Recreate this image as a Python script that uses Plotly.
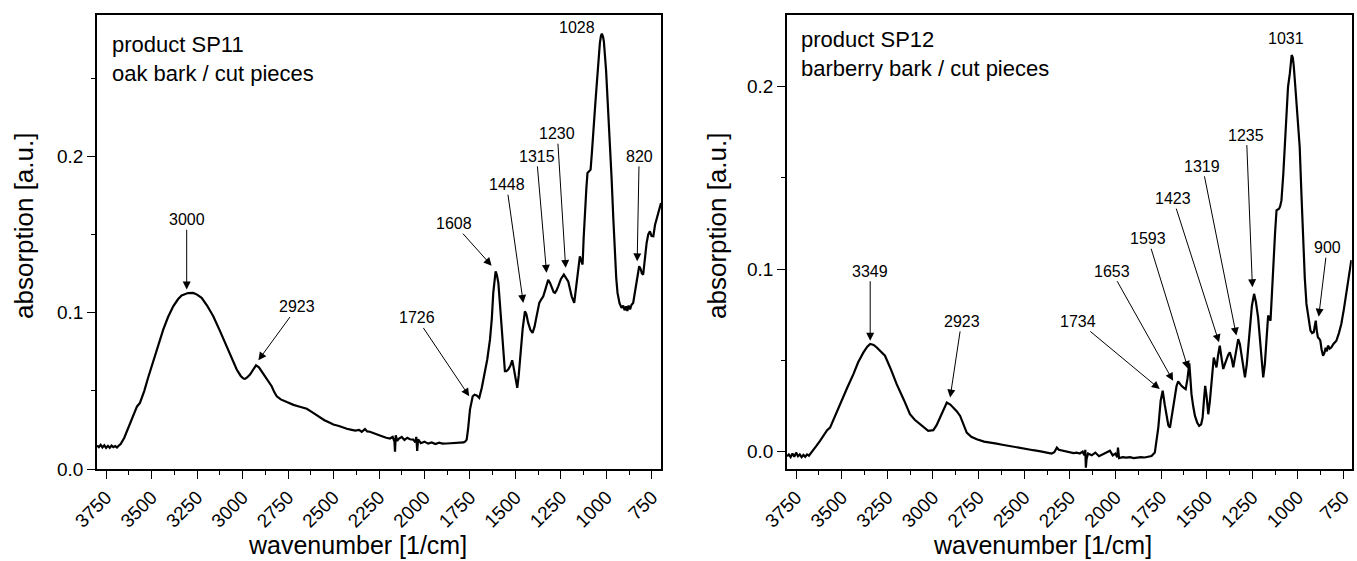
import plotly.graph_objects as go

# ---------------- data ----------------
wn_sp11 = [3800, 3790, 3780, 3770, 3760, 3750, 3740, 3730, 3720, 3710, 3700, 3690, 3680, 3670,
           3650, 3630, 3619, 3600, 3580, 3564, 3540, 3520, 3499, 3470, 3436, 3410, 3381, 3355,
           3335, 3300, 3271, 3250, 3225, 3195, 3161, 3125, 3087, 3060, 3032, 3010, 2995, 2987,
           2975, 2959, 2940, 2926, 2910, 2886, 2860, 2840, 2825, 2812, 2790, 2757, 2720, 2690,
           2660, 2647, 2620, 2600, 2574, 2550, 2520, 2501, 2470, 2450, 2427, 2400, 2380, 2360,
           2345, 2327, 2315, 2300, 2280, 2260, 2245, 2230, 2210, 2190, 2175, 2165, 2162, 2158,
           2150, 2140, 2125, 2110, 2095, 2080, 2062, 2050, 2045, 2040, 2035, 2020, 2000, 1980,
           1960, 1940, 1920, 1900, 1878, 1850, 1820, 1800, 1785, 1777, 1768, 1760, 1750, 1735,
           1725, 1713, 1699, 1685, 1668, 1655, 1640, 1630, 1622, 1614, 1609, 1602, 1594, 1585,
           1576, 1567, 1558, 1550, 1540, 1528, 1518, 1510, 1503, 1495, 1490, 1482, 1472, 1460,
           1448, 1440, 1430, 1418, 1406, 1395, 1384, 1369, 1358, 1347, 1335, 1320, 1310, 1298,
           1290, 1283, 1275, 1265, 1250, 1234, 1222, 1210, 1200, 1191, 1177, 1168, 1158, 1146,
           1138, 1131, 1125, 1118, 1110, 1104, 1095, 1087, 1080, 1072, 1062, 1054, 1045, 1036,
           1030, 1025, 1019, 1014, 1002, 990, 980, 972, 962, 954, 946, 939, 928, 917, 908, 900,
           892, 885, 878, 870, 862, 853, 843, 834, 826, 820, 812, 805, 798, 790, 779, 770, 761,
           752, 742, 733, 724, 712, 700]
abs_sp11 = [0.0150, 0.0140, 0.0155, 0.0138, 0.0152, 0.0135, 0.0148, 0.0136, 0.0150, 0.0140, 0.0147,
            0.0138, 0.0150, 0.0160, 0.0200, 0.0260, 0.0295, 0.0350, 0.0400, 0.0423, 0.0500, 0.0580,
            0.0657, 0.0770, 0.0891, 0.0970, 0.1040, 0.1085, 0.1110, 0.1125, 0.1126, 0.1115, 0.1094,
            0.1045, 0.0977, 0.0885, 0.0785, 0.0712, 0.0636, 0.0595, 0.0578, 0.0576, 0.0585, 0.0604,
            0.0640, 0.0663, 0.0650, 0.0610, 0.0570, 0.0529, 0.0490, 0.0465, 0.0445, 0.0427, 0.0410,
            0.0400, 0.0392, 0.0385, 0.0365, 0.0350, 0.0327, 0.0312, 0.0295, 0.0284, 0.0275, 0.0265,
            0.0257, 0.0250, 0.0245, 0.0250, 0.0238, 0.0255, 0.0240, 0.0238, 0.0228, 0.0222, 0.0214,
            0.0208, 0.0200, 0.0195, 0.0205, 0.0175, 0.0110, 0.0215, 0.0180, 0.0195, 0.0205, 0.0185,
            0.0200, 0.0190, 0.0188, 0.0170, 0.0205, 0.0115, 0.0190, 0.0165, 0.0175, 0.0162, 0.0170,
            0.0160, 0.0168, 0.0162, 0.0163, 0.0165, 0.0163, 0.0166, 0.0170, 0.0175, 0.0188, 0.0260,
            0.0380, 0.0465, 0.0475, 0.0470, 0.0455, 0.0520, 0.0615, 0.0700, 0.0827, 0.0960, 0.1126,
            0.1230, 0.1264, 0.1240, 0.1190, 0.1050, 0.0912, 0.0750, 0.0625, 0.0625, 0.0636, 0.0660,
            0.0695, 0.0650, 0.0593, 0.0540, 0.0519, 0.0600, 0.0764, 0.0900, 0.1008, 0.0990, 0.0934,
            0.0890, 0.0870, 0.0910, 0.0976, 0.1062, 0.1085, 0.1104, 0.1150, 0.1210, 0.1190, 0.1158,
            0.1130, 0.1126, 0.1140, 0.1168, 0.1215, 0.1243, 0.1225, 0.1200, 0.1150, 0.1104, 0.1062,
            0.1140, 0.1232, 0.1360, 0.1330, 0.1307, 0.1480, 0.1658, 0.1800, 0.1893, 0.1905, 0.1914,
            0.2020, 0.2190, 0.2320, 0.2446, 0.2600, 0.2723, 0.2770, 0.2783, 0.2765, 0.2734, 0.2550,
            0.2297, 0.2080, 0.1871, 0.1600, 0.1381, 0.1220, 0.1126, 0.1060, 0.1030, 0.1045, 0.1015,
            0.1040, 0.1010, 0.1045, 0.1020, 0.1050, 0.1062, 0.1130, 0.1190, 0.1260, 0.1296, 0.1280,
            0.1250, 0.1243, 0.1330, 0.1445, 0.1500, 0.1520, 0.1490, 0.1488, 0.1560, 0.1594, 0.1640,
            0.1701]

wn_sp12 = [3800, 3790, 3780, 3770, 3760, 3750, 3740, 3730, 3720, 3710, 3700, 3690, 3680, 3670,
           3656, 3640, 3619, 3600, 3580, 3564, 3540, 3520, 3500, 3470, 3436, 3410, 3381, 3360,
           3344, 3325, 3308, 3285, 3263, 3230, 3199, 3160, 3126, 3100, 3071, 3045, 3026, 2998,
           2980, 2961, 2940, 2924, 2905, 2888, 2870, 2851, 2832, 2815, 2790, 2760, 2720, 2680,
           2651, 2620, 2580, 2550, 2523, 2490, 2450, 2410, 2377, 2350, 2335, 2321, 2310, 2290,
           2270, 2250, 2230, 2212, 2195, 2180, 2170, 2165, 2162, 2158, 2150, 2130, 2110, 2090,
           2067, 2050, 2030, 2015, 2000, 1990, 1986, 1980, 1960, 1940, 1920, 1900, 1885, 1860,
           1840, 1820, 1802, 1784, 1765, 1752, 1741, 1730, 1719, 1710, 1701, 1690, 1677, 1665,
           1656, 1646, 1638, 1625, 1615, 1605, 1595, 1589, 1583, 1574, 1564, 1552, 1541, 1530,
           1522, 1515, 1508, 1500, 1491, 1482, 1473, 1467, 1461, 1454, 1446, 1437, 1428, 1418,
           1409, 1400, 1391, 1382, 1373, 1363, 1354, 1341, 1327, 1318, 1309, 1300, 1290, 1280,
           1263, 1252, 1240, 1230, 1218, 1205, 1195, 1190, 1181, 1172, 1163, 1156, 1150, 1142,
           1135, 1125, 1117, 1110, 1103, 1097, 1090, 1080, 1072, 1062, 1054, 1044, 1038, 1034,
           1028, 1023, 1014, 1004, 996, 990, 980, 971, 962, 953, 942, 931, 922, 913, 907, 902,
           896, 890, 884, 877, 870, 862, 855, 848, 841, 835, 826, 817, 805, 789, 775, 762, 748,
           734, 725, 717, 707]
abs_sp12 = [-0.0025, -0.0015, -0.0030, -0.0010, -0.0028, -0.0005, -0.0025, -0.0015, -0.0030, -0.0018,
            -0.0028, -0.0015, -0.0022, -0.0010, 0.0013, 0.0030, 0.0059, 0.0090, 0.0118, 0.0132,
            0.0190, 0.0235, 0.0279, 0.0350, 0.0425, 0.0490, 0.0544, 0.0575, 0.0590, 0.0585, 0.0571,
            0.0550, 0.0526, 0.0450, 0.0370, 0.0285, 0.0205, 0.0175, 0.0151, 0.0128, 0.0114, 0.0118,
            0.0145, 0.0187, 0.0235, 0.0269, 0.0258, 0.0242, 0.0222, 0.0196, 0.0150, 0.0104, 0.0082,
            0.0068, 0.0055, 0.0050, 0.0044, 0.0038, 0.0030, 0.0025, 0.0019, 0.0012, 0.0008, 0.0002,
            -0.0005, -0.0010, -0.0003, 0.0022, 0.0010, 0.0005, 0.0002, -0.0002, -0.0008, -0.0005,
            -0.0010, 0.0000, -0.0020, 0.0010, -0.0088, -0.0040, -0.0010, -0.0020, -0.0005, -0.0025,
            -0.0014, -0.0008, 0.0005, -0.0020, -0.0010, -0.0030, 0.0022, -0.0035, -0.0030, -0.0033,
            -0.0030, -0.0035, -0.0033, -0.0030, -0.0032, -0.0028, -0.0024, -0.0005, 0.0132, 0.0280,
            0.0334, 0.0260, 0.0187, 0.0145, 0.0132, 0.0200, 0.0279, 0.0360, 0.0385, 0.0370, 0.0361,
            0.0350, 0.0343, 0.0400, 0.0484, 0.0400, 0.0315, 0.0250, 0.0196, 0.0160, 0.0141, 0.0150,
            0.0187, 0.0280, 0.0361, 0.0300, 0.0205, 0.0280, 0.0370, 0.0450, 0.0516, 0.0490, 0.0462,
            0.0530, 0.0581, 0.0510, 0.0453, 0.0480, 0.0508, 0.0530, 0.0544, 0.0510, 0.0462, 0.0540,
            0.0617, 0.0590, 0.0535, 0.0460, 0.0407, 0.0480, 0.0681, 0.0800, 0.0865, 0.0820, 0.0736,
            0.0580, 0.0450, 0.0407, 0.0480, 0.0590, 0.0746, 0.0730, 0.0718, 0.0870, 0.1030, 0.1200,
            0.1323, 0.1330, 0.1332, 0.1345, 0.1377, 0.1520, 0.1689, 0.1850, 0.2000, 0.2073, 0.2140,
            0.2174, 0.2160, 0.2119, 0.2000, 0.1835, 0.1740, 0.1670, 0.1400, 0.1140, 0.0950, 0.0810,
            0.0720, 0.0663, 0.0650, 0.0654, 0.0690, 0.0718, 0.0660, 0.0626, 0.0620, 0.0608, 0.0560,
            0.0526, 0.0540, 0.0570, 0.0550, 0.0581, 0.0565, 0.0571, 0.0590, 0.0608, 0.0650, 0.0700,
            0.0780, 0.0865, 0.0930, 0.0993, 0.1050]

# peak labels: (text, arrow tip wn, tip abs, label wn, label abs)
peaks_sp11 = [("3000", 3307, 0.1147, 3307, 0.1594),
              ("2923", 2913, 0.0695, 2699, 0.1036),
              ("1726", 1754, 0.0465, 2043, 0.0966),
              ("1608", 1631, 0.1300, 1838, 0.1569),
              ("1448", 1457, 0.1062, 1549, 0.1818),
              ("1315", 1329, 0.1254, 1384, 0.1999),
              ("1230", 1224, 0.1286, 1270, 0.2144),
              ("820", 831, 0.1328, 820, 0.1999)]
top_sp11 = ("1028", 1160, 0.2826)

peaks_sp12 = [("3349", 3344, 0.0608, 3344, 0.0989),
              ("2923", 2906, 0.0297, 2843, 0.0714),
              ("1734", 1757, 0.0343, 2204, 0.0714),
              ("1653", 1684, 0.0388, 2021, 0.0989),
              ("1593", 1601, 0.0453, 1821, 0.1167),
              ("1423", 1432, 0.0599, 1684, 0.1387),
              ("1319", 1337, 0.0636, 1523, 0.1564),
              ("1235", 1249, 0.0901, 1282, 0.1735),
              ("900", 886, 0.0740, 840, 0.1118)]
top_sp12 = ("1031", 1067, 0.2266)

titles_sp11 = ["product SP11", "oak bark / cut pieces"]
titles_sp12 = ["product SP12", "barberry bark / cut pieces"]

x_ticks = [750, 1000, 1250, 1500, 1750, 2000, 2250, 2500, 2750, 3000, 3250, 3500, 3750]

# ---------------- figure ----------------
W, H = 1357, 561
FONT = "Liberation Sans, Arial, sans-serif"

fig = go.Figure()
fig.add_trace(go.Scatter(x=wn_sp11, y=abs_sp11, mode="lines",
                         line=dict(color="black", width=2.2), xaxis="x", yaxis="y",
                         showlegend=False, hoverinfo="skip"))
fig.add_trace(go.Scatter(x=wn_sp12, y=abs_sp12, mode="lines",
                         line=dict(color="black", width=2.2), xaxis="x2", yaxis="y2",
                         showlegend=False, hoverinfo="skip"))

def xaxis(dom, rng):
    return dict(domain=dom, range=rng, tickmode="array", tickvals=x_ticks,
                ticktext=[str(v) for v in x_ticks], tickangle=-45,
                ticks="outside", ticklen=8, tickwidth=1.3, tickcolor="black",
                minor=dict(ticks="outside", ticklen=4, tickwidth=1.3, tickcolor="black",
                           tickmode="linear", tick0=625, dtick=250),
                showline=True, linecolor="black", linewidth=1.5, mirror=True,
                showgrid=False, zeroline=False, automargin=False,
                tickfont=dict(family=FONT, size=19, color="black"))

def yaxis(dom, rng, anchor):
    return dict(domain=dom, range=rng, anchor=anchor, tickmode="array",
                tickvals=[0.0, 0.1, 0.2], ticktext=["0.0", "0.1", "0.2"],
                ticks="outside", ticklen=8, tickwidth=1.3, tickcolor="black",
                minor=dict(ticks="outside", ticklen=4, tickwidth=1.3, tickcolor="black",
                           tickmode="array", tickvals=[0.05, 0.15, 0.25]),
                showline=True, linecolor="black", linewidth=1.5, mirror=True,
                showgrid=False, zeroline=False, automargin=False,
                tickfont=dict(family=FONT, size=19, color="black"))

ydom = [1 - 469 / H, 1 - 14.5 / H]
fig.update_layout(
    width=W, height=H, margin=dict(l=0, r=0, t=0, b=0),
    paper_bgcolor="white", plot_bgcolor="white",
    xaxis=dict(**xaxis([97 / W, 661 / W], [3800, 700]), anchor="y"),
    yaxis=yaxis(ydom, [0.0, 0.2906], "x"),
    xaxis2=dict(**xaxis([787 / W, 1351.7 / W], [3800, 705]), anchor="y2"),
    yaxis2=yaxis(ydom, [-0.0095, 0.2396], "x2"),
    showlegend=False,
)

ann = []
lab_font = dict(family=FONT, size=16, color="black")
for xr, yr, peaks, top in (("x", "y", peaks_sp11, top_sp11), ("x2", "y2", peaks_sp12, top_sp12)):
    for txt, tx, ty, lx, ly in peaks:
        ann.append(dict(text=txt, x=tx, y=ty, ax=lx, ay=ly, xref=xr, yref=yr,
                        axref=xr, ayref=yr, showarrow=True, arrowhead=2, arrowsize=1.6,
                        arrowwidth=1, arrowcolor="black", standoff=0, font=lab_font))
    ann.append(dict(text=top[0], x=top[1], y=top[2], xref=xr, yref=yr,
                    xanchor="center", yanchor="middle", showarrow=False, font=lab_font))

title_font = dict(family=FONT, size=22, color="black")
for px, py, lines in ((110, 45, titles_sp11), (799, 40, titles_sp12)):
    for i, t in enumerate(lines):
        ann.append(dict(text=t, x=px / W, y=1 - (py + 28 * i) / H, xref="paper", yref="paper",
                        xanchor="left", yanchor="middle", showarrow=False, font=title_font))

axt_font = dict(family=FONT, size=25, color="black")
for cx in (357, 1042):
    ann.append(dict(text="wavenumber [1/cm]", x=cx / W, y=1 - 545 / H, xref="paper",
                    yref="paper", xanchor="center", yanchor="middle",
                    showarrow=False, font=axt_font))
for cx in (24, 717):
    ann.append(dict(text="absorption [a.u.]", x=cx / W, y=1 - 226 / H, xref="paper",
                    yref="paper", xanchor="center", yanchor="middle",
                    showarrow=False, textangle=-90, font=dict(family=FONT, size=26, color="black")))

fig.update_layout(annotations=ann)
fig.write_html("out.html", config={"displayModeBar": False},
               post_script="document.body.style.margin='0px';document.body.style.padding='0px';"
                           "document.body.style.overflow='hidden';")
